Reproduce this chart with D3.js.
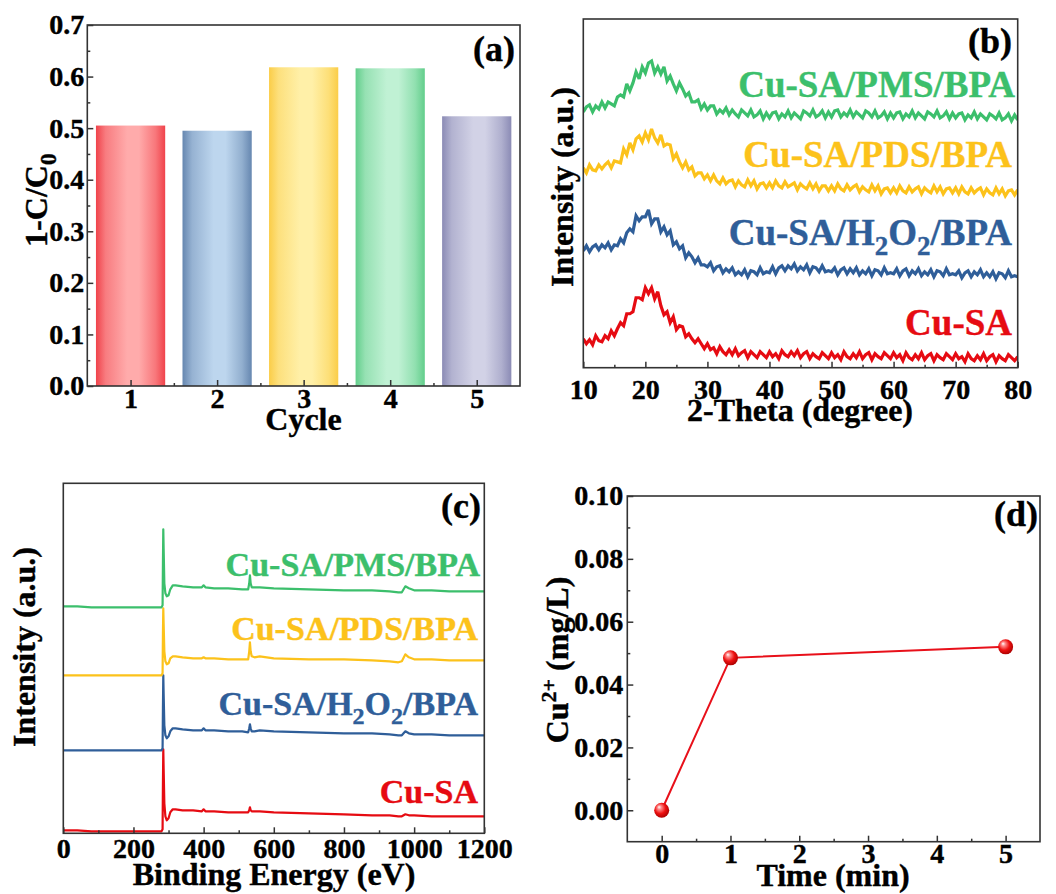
<!DOCTYPE html>
<html>
<head>
<meta charset="utf-8">
<script src="https://cdn.jsdelivr.net/npm/d3@7"></script>
<style>
  body { margin: 0; background: #fff; }
  svg { display: block; }
  text { font-family: "Liberation Serif", "Times New Roman", serif; font-weight: bold; }
</style>
</head>
<body>
<svg id="fig" width="1056" height="894"></svg>
<script>
// ---------- (a) cycling test ----------
const cycles = [1, 2, 3, 4, 5];
const removal = [0.505, 0.495, 0.618, 0.616, 0.523];
const barEdge  = ["#f0434b", "#6687b0", "#fbcd48", "#62ce8b", "#8b8bb5"];
const barLight = ["#ffabab", "#bdd6ee", "#fff0a8", "#c0f1d4", "#d2d2e6"];
const cycleTicks = [1, 2, 3, 4, 5];
const removalTicks = [0, 0.1, 0.2, 0.3, 0.4, 0.5, 0.6, 0.7];

// ---------- (b) XRD ----------
const seriesNames = ["Cu-SA", "Cu-SA/H2O2/BPA", "Cu-SA/PDS/BPA", "Cu-SA/PMS/BPA"];
const seriesColors = ["#e60b12", "#2f5e99", "#fcc21b", "#3cbf6c"];
const thetaStart = 10, thetaStep = 0.5;
const xrdRed = [29,24,28,23,32,27,26,32,29,37, 32,39,45,42,54,54,56,70,70,68, 80,74,80,69,76,62,53,56,45,51,
  38,42,41,31,34,29,25,29,24,19, 24,18,20,14,21,16,13,18,13,19, 12,15,17,10,16,13,10,16,13,10,
  16,11,14,9,17,13,11,16,12,17, 10,14,16,9,14,11,9,15,12,9, 15,10,13,8,16,11,9,14,10,16,
  9,13,15,8,14,11,9,15,12,9, 15,10,13,7,15,10,8,13,9,15, 8,12,14,7,13,10,8,14,11,8,
  14,9,11,6,14,9,7,12,8,14, 7,11,13,6,12,9,7,13,10,7, 11];
const xrdBlue = [117,122,116,121,123,118,123,120,125,118, 123,122,129,125,135,139,136,152,147,151,
  151,158,144,149,149,136,141,133,137,123, 126,119,122,110,115,111,105,110,103,103,
  101,105,97,101,102,95,99,96,100,93, 96,93,98,91,97,96,93,100,94,96, 95,101,94,100,102,97,102,99,104,97,
  101,98,103,95,101,100,96,102,96,97, 96,100,93,98,100,94,99,95,100,93, 97,94,99,92,98,97,93,100,94,95,
  94,99,92,97,99,92,97,94,99,92, 96,93,98,91,97,96,92,99,93,94, 93,97,90,95,97,91,96,93,98,91,
  95,91,96,89,95,94,90,97,91,92, 91];
const xrdYellow = [200,195,203,198,197,203,199,203,206,200, 207,206,205,219,213,225,218,229,232,226,
  235,228,239,230,225,233,222,224,223,209, 214,206,200,206,198,201,192,195,195,189,
  193,187,193,187,184,190,184,187,188,181, 187,183,181,188,182,187,179,184,185,180,
  185,180,187,182,180,186,181,183,185,178, 184,181,179,185,179,184,177,182,182,177,
  182,177,184,179,177,183,178,181,183,176, 181,178,176,183,177,182,174,179,180,175,
  180,175,182,177,175,181,176,179,181,174, 180,177,175,182,176,181,174,179,180,175,
  180,174,181,176,174,180,175,178,180,173, 179,175,173,180,174,179,172,177,178,173, 178];
const xrdGreen = [256,261,263,256,262,259,266,260,266,264, 262,271,273,271,284,277,285,296,289,301,
  295,305,307,295,301,294,301,287,292,284, 277,285,279,272,275,266,266,268,259,264,
  258,262,262,254,258,255,260,253,258,254, 251,258,255,252,258,251,253,257,249,255,
  250,255,256,249,254,251,257,250,255,252, 249,257,255,252,258,251,253,257,250,256,
  251,257,258,251,255,252,258,251,256,253, 250,257,255,251,257,250,252,256,249,255,
  250,255,256,249,254,251,257,250,255,252, 249,256,254,251,257,250,252,256,249,255,
  250,254,255,248,253,250,256,249,254,251, 248,254,252,249,255,248,250,254,247,253, 248];
const thetaTicks = [10, 20, 30, 40, 50, 60, 70, 80];

// ---------- (c) XPS survey ----------
const energy = [0,40,80,120,200,270,280,283,284,285,286,288,291,295,300,305,312,320,340,370,395,400,405,430,470,510,
  527,530,532,534,537,545,560,600,700,800,880,930,955,965,975,985,1000,1050,1100,1150,1200];
const xpsRed = [3,3,2,2,2,2,2,4,50,84,65,30,17,13,15,21,24,24,23,23,22,24,22,22,21,21,
  21,23,26,23,22,22,22,21,20,19,18,18,17,17,19,18,18,17,17,17,17];
const xpsBlue = [83,83,83,83,83,83,83,85,125,158,140,108,98,95,97,102,105,105,104,103,103,105,103,103,102,102,
  101,105,109,105,102,102,103,102,101,100,100,99,98,98,102,100,99,99,98,98,98];
const xpsYellow = [158,158,158,158,158,158,158,160,200,225,210,182,172,169,170,175,177,177,176,175,175,176,175,175,174,174,
  174,182,191,182,177,176,177,175,174,174,173,172,171,172,179,176,174,174,173,173,173];
const xpsGreen = [227,227,226,226,226,226,226,228,270,304,285,250,240,237,238,244,248,248,247,246,246,248,246,245,245,244,
  244,250,258,250,246,246,246,245,244,243,243,242,241,241,247,245,243,243,242,242,242];
const energyTicks = [0, 200, 400, 600, 800, 1000, 1200];

// ---------- (d) Cu leaching ----------
const time = [0, 1, 5];
const cuConc = [0.000, 0.0485, 0.052];
const timeTicks = [0, 1, 2, 3, 4, 5];
const cuTicks = [0, 0.02, 0.04, 0.06, 0.08, 0.10];

const svg = d3.select("#fig");
const defs = svg.append("defs");
const AXIS = "#333";

function styleAxis(g, size) {
  g.attr("color", AXIS);
  g.select(".domain").remove();
  g.selectAll(".tick line").attr("stroke-width", 1.5);
  g.selectAll("text").style("font-size", size + "px").style("fill", "#000")
    .style("stroke", "#000").style("stroke-width", 0.4)
    .style("font-family", '"Liberation Serif", "Times New Roman", serif').style("font-weight", "bold");
}
function frame(x, y) {
  svg.append("rect")
    .attr("x", x.range()[0]).attr("y", y.range()[1])
    .attr("width", x.range()[1] - x.range()[0]).attr("height", y.range()[0] - y.range()[1])
    .attr("fill", "none").attr("stroke", AXIS).attr("stroke-width", 1.6);
}
function bottomAxis(x, y, major, minor, fmt, pad) {
  const g = svg.append("g").attr("transform", `translate(0,${y.range()[0]})`)
    .call(d3.axisBottom(x).tickValues(major).tickSize(-6).tickPadding(pad).tickFormat(fmt));
  styleAxis(g, 28);
  const m = svg.append("g").attr("transform", `translate(0,${y.range()[0]})`)
    .call(d3.axisBottom(x).tickValues(minor).tickSize(-3).tickFormat(""));
  styleAxis(m, 28);
}
function leftAxis(x, y, major, minor, fmt, pad) {
  const g = svg.append("g").attr("transform", `translate(${x.range()[0]},0)`)
    .call(d3.axisLeft(y).tickValues(major).tickSize(-6).tickPadding(pad).tickFormat(fmt));
  styleAxis(g, 28);
  const m = svg.append("g").attr("transform", `translate(${x.range()[0]},0)`)
    .call(d3.axisLeft(y).tickValues(minor).tickSize(-3).tickFormat(""));
  styleAxis(m, 28);
}
function label(x, y, txt, size, anchor, color) {
  return svg.append("text").attr("x", x).attr("y", y).attr("text-anchor", anchor || "middle")
    .attr("font-size", size).attr("fill", color || "#000")
    .attr("stroke", color || "#000").attr("stroke-width", 0.4).text(txt);
}
function yTitle(x, y, parts, size) {
  const t = svg.append("text").attr("transform", `translate(${x},${y}) rotate(-90)`)
    .attr("text-anchor", "middle").attr("font-size", size)
    .attr("stroke", "#000").attr("stroke-width", 0.4);
  parts.forEach(p => t.append("tspan").attr("dy", p.dy || 0).attr("font-size", p.size || size).text(p.t));
  return t;
}
// series label with optional subscripts (H2O2)
function seriesLabel(x, y, name, size, color) {
  const t = svg.append("text").attr("x", x).attr("y", y).attr("text-anchor", "end")
    .attr("font-size", size).attr("fill", color).attr("stroke", color).attr("stroke-width", 0.4);
  if (name.includes("H2O2")) {
    const sub = Math.round(size * 0.72), sh = Math.round(size * 0.26);
    t.append("tspan").text("Cu-SA/H");
    t.append("tspan").attr("dy", sh).attr("font-size", sub).text("2");
    t.append("tspan").attr("dy", -sh).text("O");
    t.append("tspan").attr("dy", sh).attr("font-size", sub).text("2");
    t.append("tspan").attr("dy", -sh).text("/BPA");
  } else {
    t.text(name);
  }
}

// ================= (a) =================
{
  const x = d3.scaleLinear().domain([0.5, 5.5]).range([87.3, 520]);
  const y = d3.scaleLinear().domain([0, 0.7]).range([386, 25]);
  cycles.forEach((c, i) => {
    const gr = defs.append("linearGradient").attr("id", "bar" + i).attr("x1", 0).attr("x2", 1).attr("y1", 0).attr("y2", 0);
    gr.append("stop").attr("offset", 0).attr("stop-color", barEdge[i]);
    gr.append("stop").attr("offset", 0.14).attr("stop-color", d3.interpolateRgb(barEdge[i], barLight[i])(0.55));
    gr.append("stop").attr("offset", 0.45).attr("stop-color", barLight[i]);
    gr.append("stop").attr("offset", 0.62).attr("stop-color", barLight[i]);
    gr.append("stop").attr("offset", 0.86).attr("stop-color", d3.interpolateRgb(barEdge[i], barLight[i])(0.5));
    gr.append("stop").attr("offset", 1).attr("stop-color", barEdge[i]);
  });
  svg.append("g").selectAll("rect").data(cycles).join("rect")
    .attr("x", d => x(d - 0.4)).attr("width", d => x(d + 0.4) - x(d - 0.4))
    .attr("y", (d, i) => y(removal[i])).attr("height", (d, i) => y(0) - y(removal[i]))
    .attr("fill", (d, i) => `url(#bar${i})`);
  frame(x, y);
  bottomAxis(x, y, cycleTicks, [1.5, 2.5, 3.5, 4.5], d3.format("d"), 2);
  leftAxis(x, y, removalTicks, [0.05, 0.15, 0.25, 0.35, 0.45, 0.55, 0.65], d3.format(".1f"), 3);
  label(303.5, 430, "Cycle", 32);
  yTitle(47, 200, [{ t: "1-C/C" }, { t: "0", dy: 9, size: 24 }], 32);
  label(515, 61, "(a)", 36, "end");
}

// ================= (b) =================
{
  const x = d3.scaleLinear().domain([10, 80]).range([583.3, 1017.7]);
  const y = d3.scaleLinear().domain([0, 349]).range([367.7, 19]);
  defs.append("clipPath").attr("id", "clipB").append("rect")
    .attr("x", 583.3).attr("y", 19).attr("width", 434.4).attr("height", 348.7);
  const line = d3.line().x((d, i) => x(thetaStart + i * thetaStep)).y(d => y(d));
  const traces = [xrdRed, xrdBlue, xrdYellow, xrdGreen];
  svg.append("g").attr("clip-path", "url(#clipB)").selectAll("path").data(traces).join("path")
    .attr("d", line).attr("fill", "none").attr("stroke", (d, i) => seriesColors[i])
    .attr("stroke-width", 3.2).attr("stroke-linejoin", "miter").attr("stroke-miterlimit", 3);
  frame(x, y);
  bottomAxis(x, y, thetaTicks, [15, 25, 35, 45, 55, 65, 75], d3.format("d"), 11);
  label(800, 421, "2-Theta (degree)", 32);
  yTitle(573, 187, [{ t: "Intensity (a.u.)" }], 32);
  label(1012, 53, "(b)", 36, "end");
  const lx = [1012, 1012, 1012, 1015], ly = [335, 245, 166.7, 96.7];
  seriesNames.forEach((n, i) => seriesLabel(lx[i], ly[i], n, 37, seriesColors[i]));
}

// ================= (c) =================
{
  const x = d3.scaleLinear().domain([0, 1200]).range([63.3, 484.3]);
  const y = d3.scaleLinear().domain([0, 350]).range([833.3, 483.3]);
  const line = d3.line().x((d, i) => x(energy[i])).y(d => y(d));
  const traces = [xpsRed, xpsBlue, xpsYellow, xpsGreen];
  svg.append("g").selectAll("path").data(traces).join("path")
    .attr("d", line).attr("fill", "none").attr("stroke", (d, i) => seriesColors[i])
    .attr("stroke-width", 2.2).attr("stroke-linejoin", "round");
  frame(x, y);
  bottomAxis(x, y, energyTicks, [100, 300, 500, 700, 900, 1100], d3.format("d"), 5);
  label(274, 885, "Binding Energy (eV)", 32);
  yTitle(35, 647, [{ t: "Intensity (a.u.)" }], 32);
  label(481, 518, "(c)", 36, "end");
  const lx = [478, 478, 478, 480], ly = [803, 715, 640, 576];
  seriesNames.forEach((n, i) => seriesLabel(lx[i], ly[i], n, 34, seriesColors[i]));
}

// ================= (d) =================
{
  const x = d3.scaleLinear().domain([-0.5, 5.5]).range([627.3, 1040]);
  const y = d3.scaleLinear().domain([-0.01, 0.10]).range([841.7, 496]);
  const sph = defs.append("radialGradient").attr("id", "sphere")
    .attr("cx", "45%").attr("cy", "42%").attr("r", "60%").attr("fx", "32%").attr("fy", "28%");
  sph.append("stop").attr("offset", 0).attr("stop-color", "#ffffff");
  sph.append("stop").attr("offset", 0.22).attr("stop-color", "#ff8c8c");
  sph.append("stop").attr("offset", 0.6).attr("stop-color", "#ee1111");
  sph.append("stop").attr("offset", 1).attr("stop-color", "#a80000");
  frame(x, y);
  bottomAxis(x, y, timeTicks, [0.5, 1.5, 2.5, 3.5, 4.5], d3.format("d"), 1);
  leftAxis(x, y, cuTicks, [0.01, 0.03, 0.05, 0.07, 0.09], d3.format(".2f"), 4);
  svg.append("path").datum(time)
    .attr("d", d3.line().x(d => x(d)).y((d, i) => y(cuConc[i])))
    .attr("fill", "none").attr("stroke", "#e8101a").attr("stroke-width", 2);
  svg.append("g").selectAll("circle").data(time).join("circle")
    .attr("cx", d => x(d)).attr("cy", (d, i) => y(cuConc[i])).attr("r", 7.5)
    .attr("fill", "url(#sphere)");
  label(833, 886, "Time (min)", 32);
  yTitle(568, 660, [{ t: "Cu" }, { t: "2+", dy: -12, size: 22 }, { t: " (mg/L)", dy: 12 }], 32);
  label(1038, 526, "(d)", 36, "end");
}
</script>
</body>
</html>
